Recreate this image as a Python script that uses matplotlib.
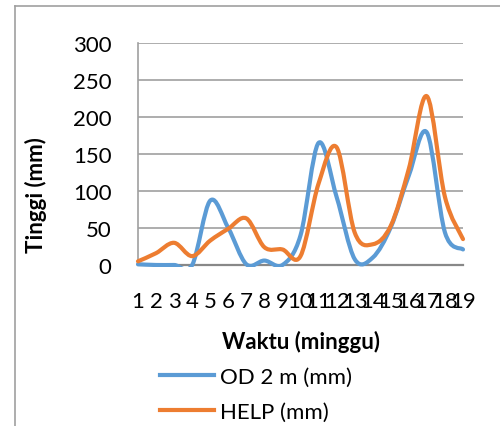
import numpy as np
import matplotlib
matplotlib.use('Agg')
import matplotlib.pyplot as plt
from matplotlib.path import Path
from matplotlib.patches import PathPatch, Rectangle
from matplotlib.lines import Line2D

plt.rcParams['font.family'] = ['Lato', 'DejaVu Sans']

minggu = list(range(1, 20))
od_2m = [1, 0, 0, 0, 87, 50, 1, 6, 0, 40, 165, 92, 8, 10, 51, 121, 179, 44, 21]
help_mm = [5, 16, 30, 12, 33, 49, 63, 24, 21, 12, 110, 159, 44, 28, 53, 130, 228, 92, 35]

blue = '#5B9BD5'
orange = '#ED7D31'
grid_c = '#A0A0A0'


def smooth_path(x, y):
    # excel-like smoothed line: bezier segments with catmull-rom control points
    x = np.asarray(x, float)
    y = np.asarray(y, float)
    n = len(x)
    verts = [(x[0], y[0])]
    codes = [Path.MOVETO]
    for i in range(n - 1):
        i0 = max(i - 1, 0)
        i3 = min(i + 2, n - 1)
        c1 = (x[i] + (x[i + 1] - x[i0]) / 6, y[i] + (y[i + 1] - y[i0]) / 6)
        c2 = (x[i + 1] - (x[i3] - x[i]) / 6, y[i + 1] - (y[i3] - y[i]) / 6)
        verts += [c1, c2, (x[i + 1], y[i + 1])]
        codes += [Path.CURVE4] * 3
    return Path(verts, codes)


fig = plt.figure(figsize=(5, 4.27), dpi=100)
ax = fig.add_axes([138/500, 1-266/427, 325/500, 222/427])

# clip a little below the baseline so lines lying on 0 show full width
clip = Rectangle((-0.01, -0.008), 1.02, 1.02, transform=ax.transAxes, visible=False)
ax.add_patch(clip)

for ys, col, lab in [(od_2m, blue, 'OD 2 m (mm)'), (help_mm, orange, 'HELP (mm)')]:
    pp = PathPatch(smooth_path(minggu, ys), facecolor='none', edgecolor=col,
                   lw=3, capstyle='round', joinstyle='round', zorder=3)
    ax.add_patch(pp)
    pp.set_clip_path(clip)
    ax.plot([], [], color=col, lw=3, label=lab)

ax.set_xlim(1, 19)
ax.set_ylim(0, 300)
ax.set_yticks(range(0, 301, 50))
ax.set_xticks(minggu)
ax.tick_params(length=0, labelsize=16, colors='black')
ax.tick_params(axis='x', pad=19)
ax.tick_params(axis='y', pad=19)
ax.grid(axis='y', color=grid_c, lw=1.2)
ax.set_axisbelow(True)
for s in ['top', 'right']:
    ax.spines[s].set_visible(False)
ax.spines['left'].set_color(grid_c)
ax.spines['bottom'].set_color('#888888')
ax.spines['bottom'].set_linewidth(1.6)
ax.spines['left'].set_linewidth(1.2)

ax.set_xlabel('Waktu (minggu)', fontsize=16, fontweight='bold', labelpad=13)
ax.set_ylabel('Tinggi (mm)', fontsize=16, fontweight='bold')
ax.yaxis.set_label_coords(-0.28, 0.32)

fig.legend(loc='upper left', bbox_to_anchor=(160/500, 1-368/427), frameon=False,
           fontsize=16, handlelength=2.45, handletextpad=0.25, labelspacing=0.68,
           borderaxespad=0, borderpad=0)

# outer chart border (left and top visible)
fig.add_artist(Line2D([15/500, 15/500], [0, 1-7/427], transform=fig.transFigure, color=grid_c, lw=1.2))
fig.add_artist(Line2D([15/500, 1], [1-7/427, 1-7/427], transform=fig.transFigure, color=grid_c, lw=1.2))

fig.savefig('out.png', dpi=100)
